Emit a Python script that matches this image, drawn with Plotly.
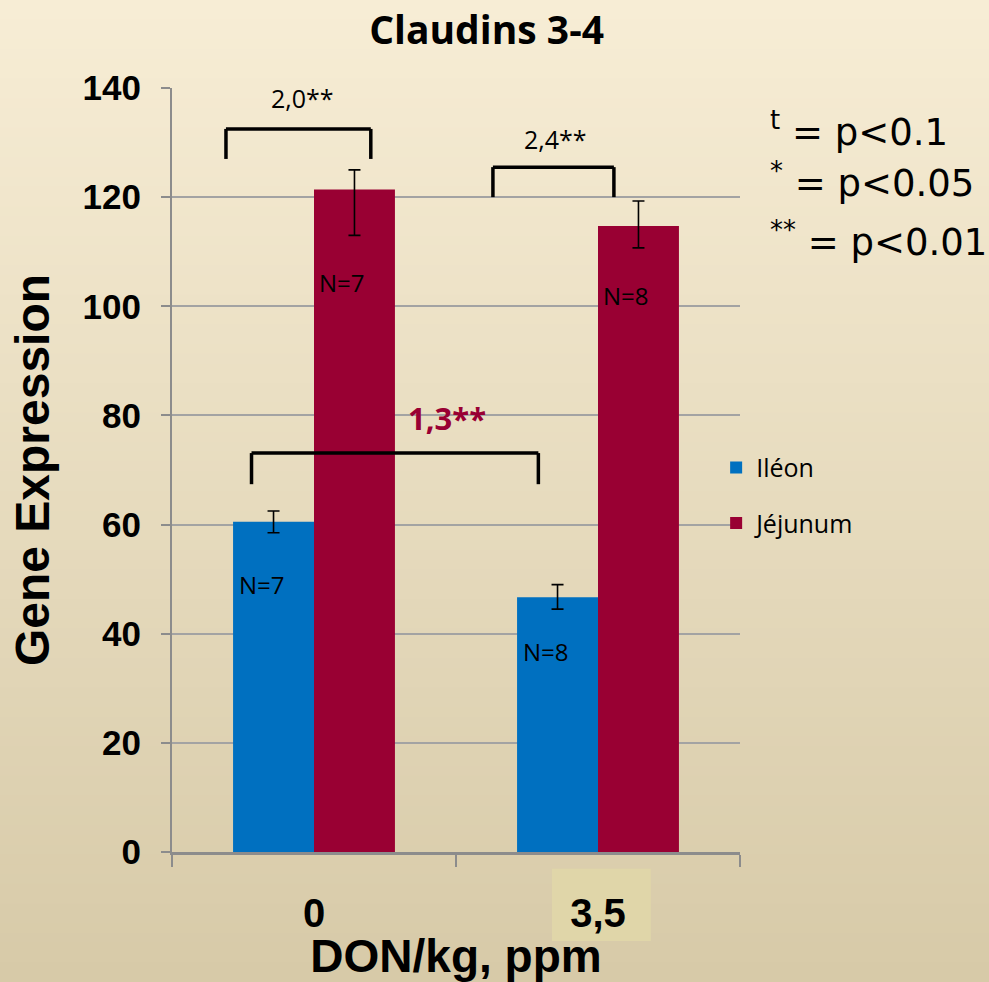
import plotly.graph_objects as go

# ---- data ----
doses = ["0", "3,5"]
ileon = [60.5, 46.7]
ileon_err_up = [2.0, 2.3]
ileon_err_down = [2.0, 2.2]
jejunum = [121.4, 114.7]
jejunum_err_up = [3.6, 4.6]
jejunum_err_down = [8.4, 4.0]
ileon_n = ["N=7", "N=8"]
jejunum_n = ["N=7", "N=8"]
n_label_y_ileon = [49.1, 36.8]
n_label_y_jejunum = [104.3, 102.0]

# significance brackets: (x start, x end, bar height, drop, label, label x, label y)
brackets = [
    (-0.31, 0.20, 132.5, 5.5, "2,0**", -0.04, 138.2),
    (0.63, 1.056, 125.5, 5.5, "2,4**", 0.85, 130.7),
    (-0.22, 0.79, 73.1, 5.7, "1,3**", 0.47, 79.5),
]
pvalue_notes = ["<sup>t</sup> = p&lt;0.1", "<sup>*</sup> = p&lt;0.05", "<sup>**</sup> = p&lt;0.01"]

BLUE = "#0070C0"
MAROON = "#990033"
CALIBRI_LIKE = "Open Sans"
ARIAL_LIKE = "Liberation Sans, Arial"

fig = go.Figure()
fig.add_trace(go.Bar(
    x=doses, y=ileon, name="Iléon", marker=dict(color=BLUE, line=dict(width=0)),
    error_y=dict(type="data", array=ileon_err_up, arrayminus=ileon_err_down,
                 symmetric=False, color="black", thickness=1.6, width=6),
    legendgroup="a",
))
fig.add_trace(go.Bar(
    x=doses, y=jejunum, name="Jéjunum", marker=dict(color=MAROON, line=dict(width=0)),
    error_y=dict(type="data", array=jejunum_err_up, arrayminus=jejunum_err_down,
                 symmetric=False, color="black", thickness=1.6, width=6),
    legendgroup="b",
))

shapes = []
# vertical background gradient (cream to beige), drawn as thin strips
top_rgb = (247, 237, 213)
bot_rgb = (215, 202, 168)
n_strips = 100
y_lo, y_hi = -130 / 764, 852 / 764
for i in range(n_strips):
    t = i / (n_strips - 1)
    r, g, b = (round(top_rgb[k] + (bot_rgb[k] - top_rgb[k]) * t) for k in range(3))
    y1 = y_hi - (y_hi - y_lo) * i / n_strips
    y0 = y_hi - (y_hi - y_lo) * (i + 1) / n_strips
    shapes.append(dict(type="rect", xref="paper", yref="paper",
                       x0=-0.4, x1=1.6, y0=y0 - 0.002, y1=y1,
                       fillcolor=f"rgb({r},{g},{b})", line=dict(width=0), layer="below"))

# highlight behind the "3,5" tick label
shapes.append(dict(type="rect", xref="paper", yref="paper",
                   x0=0.669, x1=0.843, y0=-0.1165, y1=-0.022,
                   fillcolor="#e0d6a9", line=dict(width=0), layer="below"))

annotations = []
for x0, x1, yb, drop, label, lx, ly in brackets:
    for sx0, sy0, sx1, sy1 in [(x0, yb, x1, yb), (x0, yb, x0, yb - drop), (x1, yb, x1, yb - drop)]:
        shapes.append(dict(type="line", xref="x", yref="y", x0=sx0, y0=sy0, x1=sx1, y1=sy1,
                           line=dict(color="black", width=3.5)))
    bold = label.startswith("1,3")
    annotations.append(dict(
        x=lx, y=ly, xref="x", yref="y", text=f"<b>{label}</b>" if bold else label,
        showarrow=False, xanchor="center", yanchor="middle",
        font=dict(family=CALIBRI_LIKE, size=31 if bold else 25, color=MAROON if bold else "black"),
    ))

# sample sizes written inside the bars
for i in range(len(doses)):
    annotations.append(dict(x=i - 0.272, y=n_label_y_ileon[i], xref="x", yref="y",
                            text=ileon_n[i], showarrow=False, xanchor="left", yanchor="middle",
                            font=dict(family=CALIBRI_LIKE, size=24, color="black")))
    annotations.append(dict(x=i + 0.012, y=n_label_y_jejunum[i], xref="x", yref="y",
                            text=jejunum_n[i], showarrow=False, xanchor="left", yanchor="middle",
                            font=dict(family=CALIBRI_LIKE, size=24, color="black")))

# significance key
for k, note in enumerate(pvalue_notes):
    annotations.append(dict(x=1.049, y=[0.946, 0.879, 0.802][k], xref="paper", yref="paper",
                            text=note, showarrow=False, xanchor="left", yanchor="middle",
                            font=dict(family="DejaVu Sans", size=37, color="black")))

fig.update_layout(
    width=989, height=982,
    margin=dict(l=172, r=249, t=88, b=130),
    paper_bgcolor="#ebe0c4",
    plot_bgcolor="rgba(0,0,0,0)",
    barmode="group", bargap=0.43, bargroupgap=0,
    title=dict(text="<b>Claudins 3-4</b>", x=0.492, xref="container", xanchor="center",
               y=1 - 30 / 982, yref="container", yanchor="middle",
               font=dict(family=CALIBRI_LIKE, size=39, color="black")),
    xaxis=dict(type="category", categoryorder="array", categoryarray=doses,
               range=[-0.5, 1.5],
               showline=True, linecolor="#8c8c8c", linewidth=2.5,
               ticks="outside", tickson="boundaries", ticklen=12, tickwidth=1.6, tickcolor="#8c8c8c",
               tickfont=dict(family=ARIAL_LIKE, size=40, color="black", weight="bold"),
               ticklabelstandoff=24,
               title=dict(text="<b>DON/kg, ppm</b>", standoff=4,
                          font=dict(family=ARIAL_LIKE, size=46, color="black"))),
    yaxis=dict(range=[0, 140], tickvals=[0, 20, 40, 60, 80, 100, 120, 140],
               showline=True, linecolor="#8c8c8c", linewidth=2,
               showgrid=True, gridcolor="#a3a3a3", gridwidth=1.5, zeroline=False,
               ticks="outside", ticklen=9, tickwidth=1.6, tickcolor="#8c8c8c",
               tickfont=dict(family=ARIAL_LIKE, size=35, color="black", weight="bold"),
               ticklabelstandoff=13,
               title=dict(text="<b>Gene Expression</b>", standoff=18,
                          font=dict(family=ARIAL_LIKE, size=48, color="black"))),
    legend=dict(x=0.958, y=0.533, xanchor="left", yanchor="top", bgcolor="rgba(0,0,0,0)",
                font=dict(family=CALIBRI_LIKE, size=25, color="black"), tracegroupgap=20,
                traceorder="grouped"),
    shapes=shapes,
    annotations=annotations,
)

fig.write_html("out.html")
